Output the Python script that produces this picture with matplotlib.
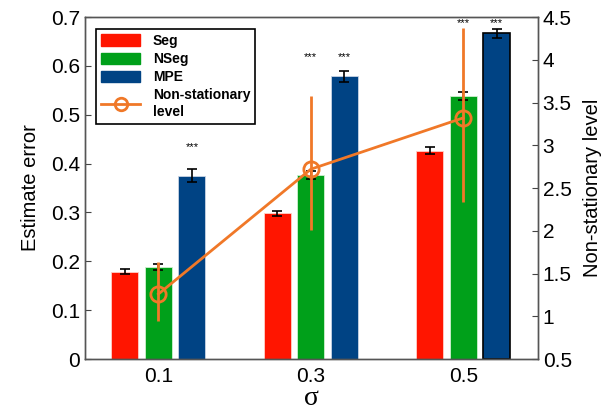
import matplotlib
matplotlib.use("Agg")
import matplotlib.pyplot as plt
import numpy as np
from matplotlib.lines import Line2D
from matplotlib.patches import Patch

plt.rcParams['font.family'] = ['Liberation Sans', 'DejaVu Sans']

categories = ['0.1', '0.3', '0.5']
seg = [0.179, 0.298, 0.426]
seg_err = [0.005, 0.005, 0.007]
nseg = [0.188, 0.376, 0.538]
nseg_err = [0.006, 0.008, 0.008]
mpe = [0.375, 0.579, 0.667]
mpe_err = [0.013, 0.011, 0.009]
ns_level = [1.26, 2.72, 3.32]
ns_err_low = [0.32, 0.71, 0.98]
ns_err_high = [0.38, 0.86, 1.05]
# significance marks: (group index, series offset index, y)
stars = [(0, 1, 0.434), (1, 0, 0.618), (1, 1, 0.618), (2, 0, 0.687), (2, 1, 0.687)]

c_red = '#ff1500'
c_green = '#00a01a'
c_blue = '#004384'
c_orange = '#f07828'

fig = plt.figure(figsize=(6.14, 4.12), dpi=100)
ax = fig.add_axes([0.1384, 0.1286, 0.7376, 0.8301])
x = np.arange(1, len(categories) + 1)
off = 0.22
w = 0.177
ekw = dict(ecolor='black', capsize=3.5, elinewidth=1.2, capthick=1.2)
ax.bar(x - off, seg, w, color=c_red, edgecolor='#ffd0c8', linewidth=0.6, yerr=seg_err, error_kw=ekw, zorder=2)
ax.bar(x, nseg, w, color=c_green, edgecolor='#d0f0d0', linewidth=0.6, yerr=nseg_err, error_kw=ekw, zorder=2)
bm = ax.bar(x + off, mpe, w, color=c_blue, edgecolor='#c8d4e4', linewidth=0.6, yerr=mpe_err, error_kw=ekw, zorder=2)
bm[-1].set_edgecolor('black')
bm[-1].set_linewidth(1.2)

for g, s, yv in stars:
    ax.text(x[g] + s * off, yv, '***', ha='center', va='center', fontsize=8)

ax.set_xlim(0.518, 3.49)
ax.set_ylim(0, 0.7)
ax.set_yticks(np.arange(0, 0.71, 0.1))
ax.set_yticklabels(['0'] + ['%.1f' % v for v in np.arange(0.1, 0.71, 0.1)])
ax.set_xticks(x)
ax.set_xticklabels(categories)
ax.tick_params(axis='y', direction='in', length=4, labelsize=15, color='#444444')
ax.tick_params(axis='x', length=0, labelsize=15, pad=6)
ax.set_ylabel('Estimate error', fontsize=14.5, labelpad=8)
ax.set_xlabel('σ', fontsize=20, family=['Liberation Serif', 'DejaVu Serif'], labelpad=0)
for sp in ax.spines.values():
    sp.set_color('#555555')
    sp.set_linewidth(1.0)

ax2 = ax.twinx()
ax2.errorbar(x, ns_level, yerr=[ns_err_low, ns_err_high], color=c_orange, lw=2,
             marker='o', ms=11, mfc='none', mew=2, elinewidth=2, capsize=0, zorder=3)
ax2.set_ylim(0.5, 4.5)
ax2.set_yticks(np.arange(0.5, 4.51, 0.5))
ax2.set_yticklabels(['%g' % v for v in np.arange(0.5, 4.51, 0.5)])
ax2.tick_params(axis='y', direction='in', length=4, labelsize=15, color='#444444')
ax2.set_ylabel('Non-stationary level', fontsize=14.5, labelpad=8)
for sp in ax2.spines.values():
    sp.set_color('#555555')
    sp.set_linewidth(1.0)

handles = [Patch(color=c_red), Patch(color=c_green), Patch(color=c_blue),
           Line2D([], [], color=c_orange, lw=2, marker='o', ms=9, mfc='none', mew=2)]
labels = ['Seg', 'NSeg', 'MPE', 'Non-stationary\nlevel']
leg = ax2.legend(handles, labels, loc='upper left', bbox_to_anchor=(0.01, 0.985),
                 prop={'weight': 'bold', 'size': 10}, fancybox=False, edgecolor='black',
                 framealpha=1, handlelength=2.8, handleheight=0.9, borderpad=0.35,
                 labelspacing=0.3, handletextpad=0.9)
leg.get_frame().set_linewidth(1.2)

fig.savefig('out.png', dpi=100)
